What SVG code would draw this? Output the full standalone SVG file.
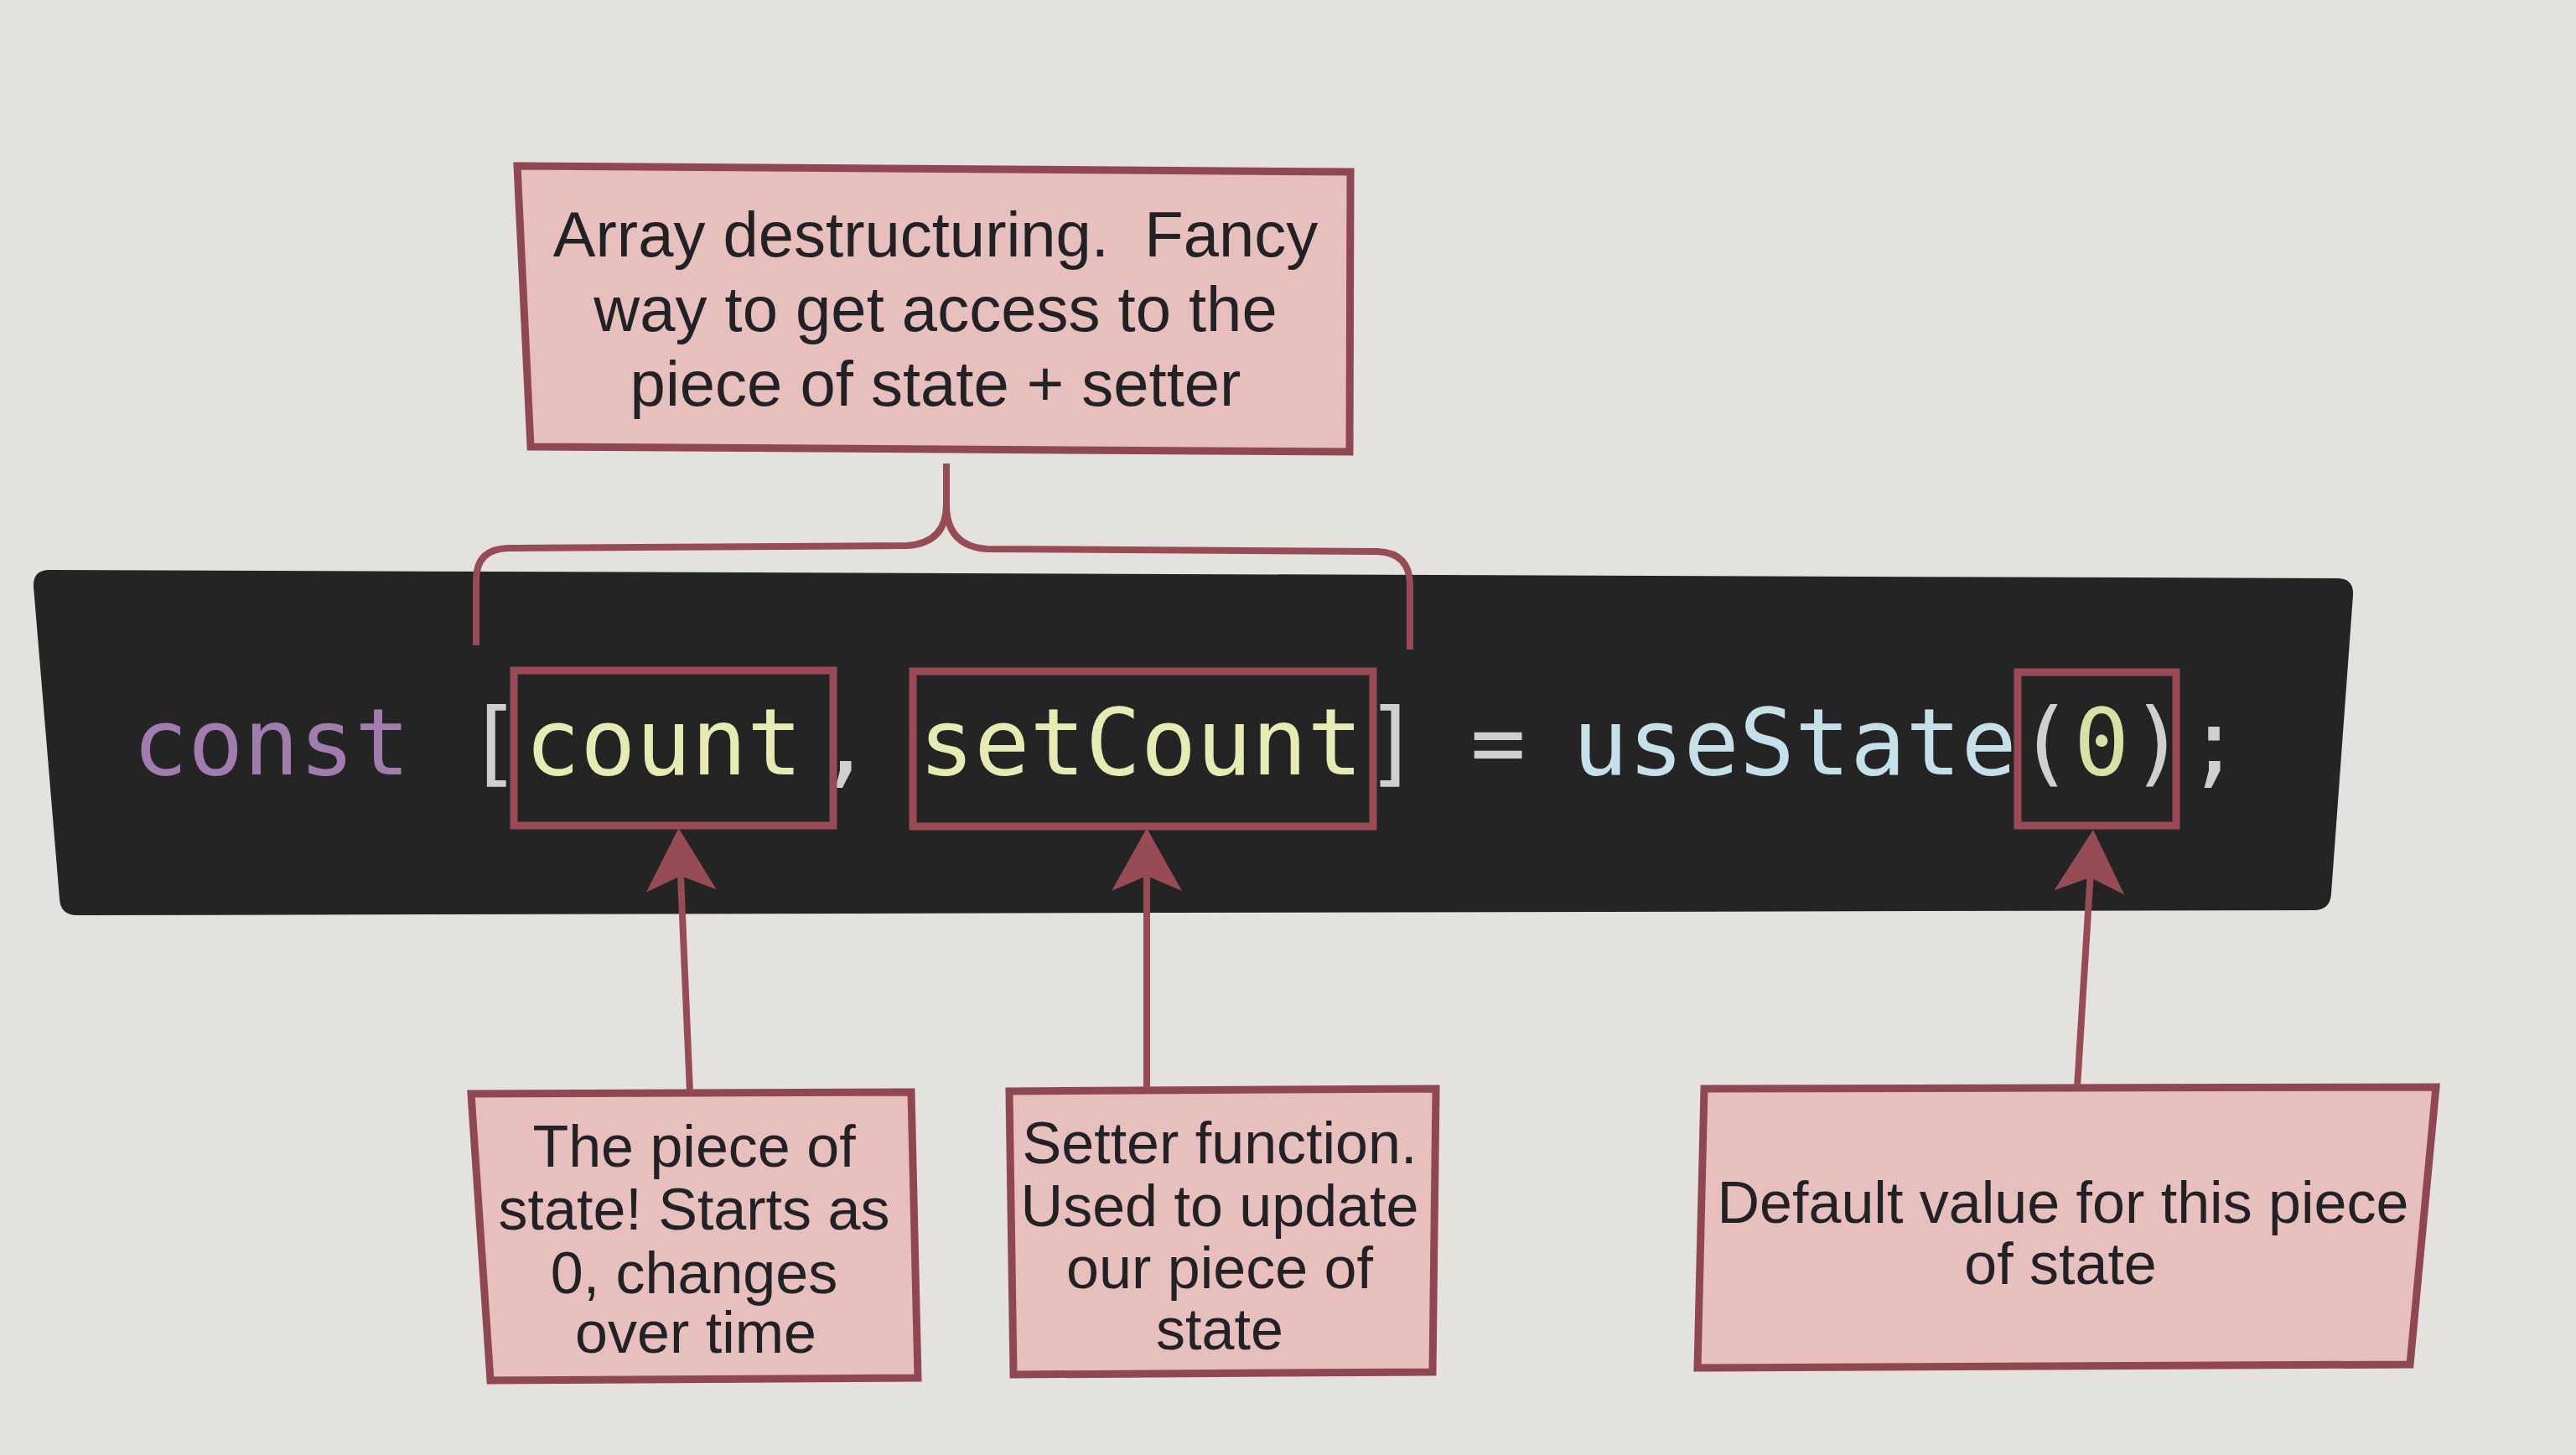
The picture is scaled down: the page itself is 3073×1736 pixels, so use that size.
<svg xmlns="http://www.w3.org/2000/svg" width="3073" height="1736" viewBox="0 0 3073 1736">
  <style>
    .note { fill: #e7bfbd; stroke: #8f4852; stroke-width: 9; stroke-linejoin: miter; }
    .hl { fill: none; stroke: #9a4a55; stroke-width: 9; }
    .lbl { font-family: "Liberation Sans", Arial, Helvetica, sans-serif; fill: #222226; text-anchor: middle; }
    .top { font-size: 76px; }
    .bot { font-size: 70px; }
    .code { font-family: "DejaVu Sans Mono", "Liberation Mono", monospace; font-size: 110px; }
    .kw { fill: #a17daf; }
    .pn { fill: #cfcfcf; }
    .var { fill: #e5ebb3; }
    .fn { fill: #c6e0ea; }
    .num { fill: #d8e1a4; }
    .conn { fill: none; stroke: #974b55; stroke-width: 8; }
  </style>
  <defs>
    <marker id="head" markerUnits="userSpaceOnUse" viewBox="-25 -50 90 100" refX="0" refY="0" markerWidth="90" markerHeight="100" orient="auto" overflow="visible">
      <path d="M 57 0 L -18 -42 L 0 0 L -18 42 Z" fill="#974b55"/>
    </marker>
  </defs>

  <rect x="0" y="0" width="3073" height="1736" fill="#e3e2de"/>

  <g id="code-panel">
    <path d="M 59 680 L 2788 690 Q 2808 690 2807 710 L 2781 1066 Q 2780 1086 2760 1086 L 92 1092 Q 72 1092 71 1072 L 40 700 Q 39 680 59 680 Z" fill="#242424"/>
    <text class="code" y="924">
      <tspan class="kw" x="158">const</tspan>
      <tspan class="pn" x="556">[</tspan>
      <tspan class="var" x="626">count</tspan>
      <tspan class="pn" x="975">,</tspan>
      <tspan class="var" x="1096">setCount</tspan>
      <tspan class="pn" x="1628">]</tspan>
      <tspan class="pn" x="1754">=</tspan>
      <tspan class="fn" x="1876">useState</tspan>
      <tspan class="pn" x="2407">(</tspan>
      <tspan class="num" x="2474">0</tspan>
      <tspan class="pn" x="2541">)</tspan>
      <tspan class="pn" x="2608">;</tspan>
    </text>
  </g>

  <g id="hl-count">
    <rect class="hl" x="613" y="800" width="381" height="185"/>
  </g>
  <g id="hl-setcount">
    <rect class="hl" x="1089" y="801" width="549" height="185"/>
  </g>
  <g id="hl-zero">
    <rect class="hl" x="2407" y="802" width="189" height="183"/>
  </g>

  <g id="note-destructuring">
    <polygon class="note" points="617,198 1611,205 1610,539 633,533"/>
    <text class="lbl top" xml:space="preserve"><tspan x="1116" y="306">Array destructuring.  Fancy</tspan><tspan x="1116" y="395">way to get access to the</tspan><tspan x="1116" y="484">piece of state + setter</tspan></text>
  </g>

  <g id="note-state">
    <polygon class="note" points="562,1305 1087,1303 1095,1644 585,1647"/>
    <text class="lbl bot"><tspan x="828" y="1392">The piece of</tspan><tspan x="828" y="1467">state! Starts as</tspan><tspan x="828" y="1543">0, changes</tspan><tspan x="830" y="1614">over time</tspan></text>
  </g>

  <g id="note-setter">
    <polygon class="note" points="1204,1302 1713,1299 1709,1637 1209,1640"/>
    <text class="lbl bot"><tspan x="1455" y="1388">Setter function.</tspan><tspan x="1455" y="1463">Used to update</tspan><tspan x="1455" y="1537">our piece of</tspan><tspan x="1455" y="1610">state</tspan></text>
  </g>

  <g id="note-default">
    <polygon class="note" points="2033,1299 2906,1297 2875,1628 2025,1632"/>
    <text class="lbl bot"><tspan x="2461" y="1459">Default value for this piece</tspan><tspan x="2458" y="1532">of state</tspan></text>
  </g>

  <g id="connectors">
    <path class="conn" d="M 568 770 L 568 692 Q 568 655 606 654 L 1082 651 Q 1129 648 1129 602 L 1129 553"/>
    <path class="conn" d="M 1129 602 Q 1129 652 1178 655 L 1644 658 Q 1682 660 1682 698 L 1682 775"/>
    <line class="conn" x1="823" y1="1303" x2="812" y2="1045" marker-end="url(#head)"/>
    <line class="conn" x1="1368" y1="1299" x2="1368" y2="1045" marker-end="url(#head)"/>
    <line class="conn" x1="2478" y1="1297" x2="2493.5" y2="1047" marker-end="url(#head)"/>
  </g>
</svg>
